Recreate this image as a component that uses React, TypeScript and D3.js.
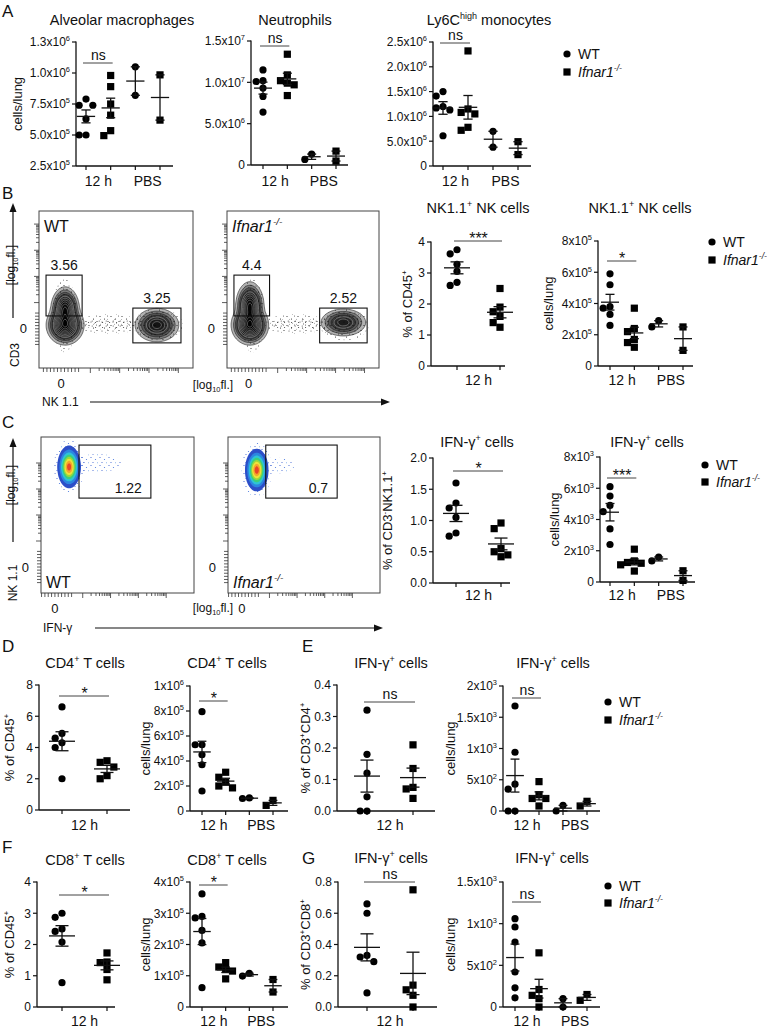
import React from "react";
import * as d3 from "d3";

const W = 767;
const H = 1029;
const FONT = "'Liberation Sans', Arial, Helvetica, sans-serif";

// ---------- scatter data (cells/lung or %) ----------
// A
const alvWT12 = [7.9e5, 7.4e5, 7.4e5, 6.3e5, 5.0e5, 5.0e5];
const alvKO12 = [9.8e5, 8.9e5, 7.5e5, 6.6e5, 5.35e5, 4.95e5];
const alvWTPBS = [1.05e6, 8.2e5];
const alvKOPBS = [9.85e5, 6.2e5];
const alvTicks = [2.5e5, 5e5, 7.5e5, 1e6, 1.25e6];
const alvTickLabels = ["2.5x10^{5}", "5.0x10^{5}", "7.5x10^{5}", "1.0x10^{6}", "1.3x10^{6}"];

const neuWT12 = [1.15e7, 1.02e7, 1.01e7, 9.3e6, 8.3e6, 6.4e6];
const neuKO12 = [1.34e7, 1.09e7, 1.02e7, 9.9e6, 9.7e6, 8.4e6];
const neuWTPBS = [1.32e6, 6.8e5];
const neuKOPBS = [1.68e6, 4.8e5];
const neuTicks = [0, 5e6, 1e7, 1.5e7];
const neuTickLabels = ["0", "5.0x10^{6}", "1.0x10^{7}", "1.5x10^{7}"];

const monoWT12 = [1.5e6, 1.41e6, 1.2e6, 1.17e6, 1.13e6, 6.1e5];
const monoKO12 = [2.32e6, 1.15e6, 1.08e6, 1.05e6, 7.8e5, 7.2e5];
const monoWTPBS = [7.0e5, 3.8e5];
const monoKOPBS = [4.9e5, 2.3e5];
const monoTicks = [0, 5e5, 1e6, 1.5e6, 2e6, 2.5e6];
const monoTickLabels = ["0", "5.0x10^{5}", "1.0x10^{6}", "1.5x10^{6}", "2.0x10^{6}", "2.5x10^{6}"];

// B
const nkPctWT = [3.75, 3.62, 3.28, 3.05, 2.7, 2.6];
const nkPctKO = [2.5, 1.9, 1.75, 1.6, 1.4, 1.25];
const nkCntWT = [5.9e5, 5.2e5, 3.8e5, 3.7e5, 3.3e5, 2.6e5];
const nkCntKO = [3.7e5, 2.4e5, 2.2e5, 1.7e5, 1.5e5, 1.2e5];
const nkCntWTPBS = [2.9e5, 2.5e5];
const nkCntKOPBS = [2.5e5, 1.0e5];

// C
const ifnNkPctWT = [1.6, 1.28, 1.2, 1.05, 0.8, 0.75];
const ifnNkPctKO = [0.96, 0.87, 0.55, 0.5, 0.45, 0.42];
const ifnNkCntWT = [6.1e3, 5.5e3, 4.9e3, 4.5e3, 3.4e3, 2.4e3];
const ifnNkCntKO = [2.1e3, 1.35e3, 1.25e3, 1.2e3, 1.1e3, 0.7e3];
const ifnNkCntWTPBS = [1.6e3, 1.35e3];
const ifnNkCntKOPBS = [0.72e3, 0.1e3];

// D
const cd4PctWT = [6.6, 4.9, 4.6, 4.3, 4.0, 2.0];
const cd4PctKO = [3.15, 3.05, 2.75, 2.2, 2.0];
const cd4CntWT = [7.95e5, 5.3e5, 5.3e5, 4.5e5, 3.7e5, 1.6e5];
const cd4CntKO = [3.1e5, 2.7e5, 2.3e5, 2.0e5, 1.85e5];
const cd4CntWTPBS = [1.05e5, 1.0e5];
const cd4CntKOPBS = [0.85e5, 0.45e5];

// E
const ifnCd4PctWT = [0.32, 0.18, 0.12, 0.045, 0, 0];
const ifnCd4PctKO = [0.21, 0.135, 0.075, 0.07, 0.04];
const ifnCd4CntWT = [1680, 940, 430, 350, 0, 0];
const ifnCd4CntKO = [470, 260, 200, 200, 80];
const ifnCd4CntWTPBS = [90, 0];
const ifnCd4CntKOPBS = [155, 80];

// F
const cd8PctWT = [3.0, 2.87, 2.5, 2.42, 2.08, 0.78];
const cd8PctKO = [1.73, 1.44, 1.42, 1.2, 0.87];
const cd8CntWT = [3.62e5, 2.9e5, 2.85e5, 2.45e5, 2.05e5, 0.62e5];
const cd8CntKO = [1.42e5, 1.28e5, 1.2e5, 1.15e5, 0.9e5];
const cd8CntWTPBS = [1.08e5, 0.99e5];
const cd8CntKOPBS = [0.88e5, 0.48e5];

// G
const ifnCd8PctWT = [0.66, 0.6, 0.33, 0.32, 0.29, 0.09];
const ifnCd8PctKO = [0.75, 0.14, 0.11, 0.075, 0.0];
const ifnCd8CntWT = [1060, 960, 780, 420, 230, 110];
const ifnCd8CntKO = [650, 210, 140, 100, 0];
const ifnCd8CntWTPBS = [100, 0];
const ifnCd8CntKOPBS = [150, 80];

// ---------- flow cytometry (log10 fluorescence units) ----------
type Pop = { x: number; y: number; sx: number; sy: number; w: number };
type Gate = { x0: number; x1: number; y0: number; y1: number };
type Cloud = { x: number; y: number; rx: number; ry: number };

const nkPopsWT: Pop[] = [
  { x: 0.14, y: 0.14, sx: 0.22, sy: 0.26, w: 1 },
  { x: 0.14, y: 0.75, sx: 0.17, sy: 0.3, w: 0.75 },
  { x: 3.27, y: 0.14, sx: 0.28, sy: 0.24, w: 0.45 },
];
const nkPopsKO: Pop[] = [
  { x: 0.04, y: 0.14, sx: 0.22, sy: 0.26, w: 1 },
  { x: 0.04, y: 0.85, sx: 0.17, sy: 0.33, w: 0.8 },
  { x: 3.27, y: 0.24, sx: 0.3, sy: 0.2, w: 0.35 },
];
const nkClouds: Cloud[] = [
  { x: 1.65, y: 0.18, rx: 1.1, ry: 0.38 },
  { x: 1.65, y: 0.18, rx: 0.9, ry: 0.22 },
  { x: 0.12, y: 0.5, rx: 0.42, ry: 1.4 },
  { x: 3.3, y: 0.16, rx: 0.85, ry: 0.6 },
];
const nkGates: Gate[] = [
  { x0: -0.51, x1: 0.72, y0: 0.49, y1: 2.05 },
  { x0: 2.45, x1: 4.09, y0: -0.54, y1: 0.79 },
];
const nkGatePctWT = ["3.56", "3.25"];
const nkGatePctKO = ["4.4", "2.52"];

const ifnPopsWT: Pop[] = [{ x: 0.51, y: 3.85, sx: 0.16, sy: 0.31, w: 1 }];
const ifnPopsKO: Pop[] = [{ x: 0.54, y: 3.73, sx: 0.16, sy: 0.31, w: 1 }];
const ifnCloudsWT: Cloud[] = [
  { x: 0.51, y: 3.85, rx: 0.55, ry: 1.05 },
  { x: 1.5, y: 4.0, rx: 0.9, ry: 0.35 },
];
const ifnCloudsKO: Cloud[] = [
  { x: 0.54, y: 3.73, rx: 0.55, ry: 1.05 },
  { x: 1.3, y: 3.9, rx: 0.6, ry: 0.3 },
];
const ifnGates: Gate[] = [{ x0: 0.866, x1: 3.45, y0: 2.65, y1: 4.69 }];
const ifnGatePctWT = ["1.22"];
const ifnGatePctKO = ["0.7"];

const bwLevels = [0.012, 0.035, 0.07, 0.12, 0.18, 0.26, 0.35, 0.45, 0.56, 0.68, 0.8, 0.92];
const colorLevels = [0.03, 0.1, 0.2, 0.32, 0.46, 0.6, 0.75, 0.9];
const colorFills = ["#2d4fc8", "#2c86e0", "#2ec4d6", "#3dcf7a", "#9bd83c", "#efe23a", "#f6a52a", "#e8452a"];

// ---------- helpers ----------
function Rich({ x = 0, y = 0, text, size = 14, anchor = "start", italic = false, transform, dy, fill = "#111" }: any) {
  const re = /\^\{([^}]*)\}|_\{([^}]*)\}/g;
  const parts: { t: string; k: number }[] = [];
  let last = 0;
  let m: any;
  while ((m = re.exec(text))) {
    if (m.index > last) parts.push({ t: text.slice(last, m.index), k: 0 });
    if (m[1] !== undefined) parts.push({ t: m[1], k: 1 });
    else parts.push({ t: m[2], k: -1 });
    last = re.lastIndex;
  }
  if (last < text.length) parts.push({ t: text.slice(last), k: 0 });
  if (parts.length === 1 && parts[0].k === 0) {
    return (
      <text x={x} y={y} dy={dy} transform={transform} fontSize={size} textAnchor={anchor}
        fontStyle={italic ? "italic" : "normal"} fill={fill} fontFamily={FONT}>{text}</text>
    );
  }
  let cur = 0;
  return (
    <text x={x} y={y} dy={dy} transform={transform} fontSize={size} textAnchor={anchor}
      fontStyle={italic ? "italic" : "normal"} fill={fill} fontFamily={FONT}>
      {parts.map((p, i) => {
        const target = p.k === 1 ? -0.42 * size : p.k === -1 ? 0.22 * size : 0;
        const d = target - cur;
        cur = target;
        return (
          <tspan key={i} dy={d} fontSize={p.k === 0 ? size : size * 0.62}>{p.t}</tspan>
        );
      })}
    </text>
  );
}

function Arrow({ x1, y1, x2, y2 }: any) {
  const a = Math.atan2(y2 - y1, x2 - x1);
  const L = 9, hw = 3.5;
  const bx = x2 - L * Math.cos(a), by = y2 - L * Math.sin(a);
  const px = -Math.sin(a) * hw, py = Math.cos(a) * hw;
  return (
    <g>
      <line x1={x1} y1={y1} x2={bx + 2 * Math.cos(a)} y2={by + 2 * Math.sin(a)} stroke="#111" strokeWidth={1.2} />
      <path d={`M${x2},${y2}L${bx + px},${by + py}L${bx - px},${by - py}Z`} fill="#111" />
    </g>
  );
}

function dodge(vals: number[], y: any, r: number) {
  const order = vals.map((_, i) => i).sort((a, b) => vals[b] - vals[a]);
  const placed: { dx: number; py: number }[] = [];
  const out: { dx: number; py: number }[] = new Array(vals.length);
  const slots = [0, -1, 1, -2, 2, -3, 3];
  const gap = r * 1.9;
  for (const i of order) {
    const py = y(vals[i]);
    for (const s of slots) {
      const dx = s * gap;
      if (placed.every((p) => Math.hypot(p.dx - dx, p.py - py) >= gap)) {
        placed.push({ dx, py });
        out[i] = { dx, py };
        break;
      }
    }
  }
  return out;
}

type Spec = {
  x0: number; x1: number; g: [number, number]; yTop: number; yBot: number;
  domain: [number, number]; ticks: number[]; tickLabels: string[];
  title: string; titleX: number; titleY: number;
  yLabel?: string; yLabelX?: number;
  groups: number[][]; sig: { text: string; y: number }; xLabelY: number;
};

function Chart({ s }: { s: Spec }) {
  const y = d3.scaleLinear().domain(s.domain).range([s.yBot, s.yTop]);
  const idx = s.groups.map((_, i) => i);
  const x = d3.scalePoint<number>().domain(idx).range(s.g);
  const sp = (s.g[1] - s.g[0]) / (idx.length - 1);
  const mw = Math.min(13, sp * 0.37);
  const cw = mw * 0.5;
  const r = 3.6;
  const xl = idx.length === 4
    ? [{ t: "12 h", a: 0, b: 1 }, { t: "PBS", a: 2, b: 3 }]
    : [{ t: "12 h", a: 0, b: 1 }];
  const star = s.sig.text.includes("*");
  const gx = (i: number) => x(i) as number;
  return (
    <g>
      <Rich x={s.titleX} y={s.titleY} text={s.title} size={14.5} anchor="middle" />
      {s.yLabel && (
        <Rich text={s.yLabel} size={13} anchor="middle" dy="0.35em"
          transform={`translate(${s.yLabelX},${(s.yTop + s.yBot) / 2}) rotate(-90)`} />
      )}
      <line x1={s.x0} x2={s.x0} y1={s.yTop - 0.6} y2={s.yBot} stroke="#111" strokeWidth={1.3} />
      <line x1={s.x0} x2={s.x1} y1={s.yBot} y2={s.yBot} stroke="#111" strokeWidth={1.3} />
      {s.ticks.map((t, i) => (
        <g key={i}>
          <line x1={s.x0 - 4} x2={s.x0} y1={y(t)} y2={y(t)} stroke="#111" strokeWidth={1.2} />
          <Rich x={s.x0 - 6} y={y(t) + 4.3} text={s.tickLabels[i]} size={12} anchor="end" />
        </g>
      ))}
      {idx.map((i) => (
        <line key={i} x1={gx(i)} x2={gx(i)} y1={s.yBot} y2={s.yBot + 4} stroke="#111" strokeWidth={1.2} />
      ))}
      {xl.map((l, i) => (
        <Rich key={i} x={(gx(l.a) + gx(l.b)) / 2} y={s.xLabelY} text={l.t} size={14} anchor="middle" />
      ))}
      <line x1={gx(0) - 3} x2={gx(1) + 2} y1={s.sig.y} y2={s.sig.y} stroke="#444" strokeWidth={1} />
      <Rich x={(gx(0) + gx(1)) / 2} y={star ? s.sig.y + 2.5 : s.sig.y - 3}
        text={s.sig.text} size={star ? 16 : 14} anchor="middle" />
      {s.groups.map((vals, gi) => {
        const cx = gx(gi);
        const pos = dodge(vals, y, r);
        const mean = d3.mean(vals) as number;
        const sem = (d3.deviation(vals) as number) / Math.sqrt(vals.length);
        return (
          <g key={gi}>
            {pos.map((p, k) =>
              gi % 2 === 0 ? (
                <circle key={k} cx={cx + p.dx} cy={p.py} r={r} fill="#000" />
              ) : (
                <rect key={k} x={cx + p.dx - r} y={p.py - r} width={2 * r} height={2 * r} fill="#000" />
              )
            )}
            <line x1={cx - mw} x2={cx + mw} y1={y(mean)} y2={y(mean)} stroke="#111" strokeWidth={1.3} />
            <line x1={cx} x2={cx} y1={y(mean - sem)} y2={y(mean + sem)} stroke="#111" strokeWidth={1.3} />
            <line x1={cx - cw} x2={cx + cw} y1={y(mean + sem)} y2={y(mean + sem)} stroke="#111" strokeWidth={1.3} />
            <line x1={cx - cw} x2={cx + cw} y1={y(mean - sem)} y2={y(mean - sem)} stroke="#111" strokeWidth={1.3} />
          </g>
        );
      })}
    </g>
  );
}

function Legend({ x, y, gap = 18 }: any) {
  return (
    <g>
      <circle cx={x} cy={y} r={3.6} fill="#000" />
      <Rich x={x + 11} y={y + 5} text="WT" size={14} />
      <rect x={x - 3.6} y={y + gap - 3.6} width={7.2} height={7.2} fill="#000" />
      <Rich x={x + 11} y={y + gap + 5} text="Ifnar1^{-/-}" size={14} italic />
    </g>
  );
}

const flowTicks = [
  ...d3.range(-0.6, 0.61, 0.12).map((v) => ({ v, major: false })),
  ...d3.scaleLog().domain([10, 1e4]).ticks().map((t) => ({ v: Math.log10(t), major: Number.isInteger(Math.log10(t)) })),
];

function Flow({ id, left, top, w, h, xDom, yDom, pops, color, clouds, gates, gateLabels, sample, sampleItalic, sampleBottom }: any) {
  const xs = d3.scaleLinear().domain(xDom).range([left, left + w]);
  const ys = d3.scaleLinear().domain(yDom).range([top + h, top]);
  const step = 1.25;
  const nx = Math.ceil(w / step), ny = Math.ceil(h / step);
  const vals: number[] = new Array(nx * ny);
  for (let j = 0; j < ny; j++) {
    for (let i = 0; i < nx; i++) {
      const u = xs.invert(left + (i + 0.5) * step);
      const v = ys.invert(top + (j + 0.5) * step);
      let s = 0;
      for (const p of pops as Pop[]) {
        s += p.w * Math.exp(-0.5 * (((u - p.x) / p.sx) ** 2 + ((v - p.y) / p.sy) ** 2));
      }
      vals[j * nx + i] = s;
    }
  }
  const mx = d3.max(vals) as number;
  const levels = color ? colorLevels : bwLevels;
  const cs = d3.contours().size([nx, ny]).thresholds(levels.map((l) => l * mx))(vals);
  const proj = d3.geoTransform({
    point(px: number, py: number) {
      (this as any).stream.point(left + px * step, top + py * step);
    },
  });
  const path = d3.geoPath(proj);
  const x0 = xs(0), y0 = ys(0);
  return (
    <g>
      <defs>
        <clipPath id={id}>
          <rect x={left} y={top} width={w} height={h} />
        </clipPath>
      </defs>
      <g clipPath={`url(#${id})`}>
        {(clouds as Cloud[]).map((c, i) => (
          <ellipse key={i} cx={xs(c.x)} cy={ys(c.y)} rx={xs(c.x + c.rx) - xs(c.x)} ry={ys(c.y) - ys(c.y + c.ry)}
            fill={color ? "url(#stipB)" : i === 1 ? "url(#stipK2)" : "url(#stipK)"} />
        ))}
        {cs.map((c, i) =>
          color ? (
            <path key={i} d={path(c as any) || ""} fill={colorFills[i]} stroke="none" />
          ) : (
            <path key={i} d={path(c as any) || ""} fill="#000" fillOpacity={0.3}
              stroke={i >= 4 ? "#fff" : "#111"} strokeWidth={0.55} strokeOpacity={i >= 4 ? 0.55 : 1} />
          )
        )}
      </g>
      <rect x={left} y={top} width={w} height={h} fill="none" stroke="#444" strokeWidth={1} />
      {flowTicks.map((t, i) => {
        const len = t.major ? 5 : Math.abs(t.v) < 0.7 ? 4 : 3;
        return (
          <g key={i}>
            {xs(t.v) > left && xs(t.v) < left + w && (
              <line x1={xs(t.v)} x2={xs(t.v)} y1={top + h} y2={top + h + len} stroke="#333" strokeWidth={0.8} />
            )}
            {ys(t.v) > top && ys(t.v) < top + h && (
              <line x1={left - len} x2={left} y1={ys(t.v)} y2={ys(t.v)} stroke="#333" strokeWidth={0.8} />
            )}
          </g>
        );
      })}
      <Rich x={left - 12} y={y0 + 4.5} text="0" size={13} anchor="end" />
      <Rich x={x0} y={top + h + 20} text="0" size={13} anchor="middle" />
      {(gates as Gate[]).map((g, i) => {
        const gx0 = xs(g.x0), gx1 = xs(g.x1), gy0 = ys(g.y0), gy1 = ys(g.y1);
        return (
          <g key={i}>
            <rect x={gx0} y={gy1} width={gx1 - gx0} height={gy0 - gy1} fill="none" stroke="#111" strokeWidth={1.1} />
            {color ? (
              <Rich x={gx1 - 9} y={gy0 - 5} text={gateLabels[i]} size={14} anchor="end" />
            ) : (
              <Rich x={(gx0 + gx1) / 2} y={gy1 - 5} text={gateLabels[i]} size={14} anchor="middle" />
            )}
          </g>
        );
      })}
      <Rich x={left + 5} y={sampleBottom ? top + h - 5 : top + 21} text={sample} size={16} italic={sampleItalic} />
    </g>
  );
}

const nkXDom = [-0.75, 4.5];
const nkYDom = [-1.5, 4.5];
const ifnXDom = [-0.5, 5];
const ifnYDom = [-1, 5];

export default function App() {
  const twoG = (a: number, b: number): [number, number] => [a, b];
  const charts: Spec[] = [
    { x0: 76, x1: 173, g: twoG(86, 160), yTop: 42, yBot: 166, domain: [2.5e5, 1.25e6], ticks: alvTicks, tickLabels: alvTickLabels,
      title: "Alveolar macrophages", titleX: 122, titleY: 25, yLabel: "cells/lung", yLabelX: 17,
      groups: [alvWT12, alvKO12, alvWTPBS, alvKOPBS], sig: { text: "ns", y: 63 }, xLabelY: 186 },
    { x0: 251, x1: 348, g: twoG(263, 336), yTop: 41, yBot: 165, domain: [0, 1.5e7], ticks: neuTicks, tickLabels: neuTickLabels,
      title: "Neutrophils", titleX: 295, titleY: 25,
      groups: [neuWT12, neuKO12, neuWTPBS, neuKOPBS], sig: { text: "ns", y: 46 }, xLabelY: 186 },
    { x0: 433, x1: 531, g: twoG(443, 518), yTop: 42, yBot: 166, domain: [0, 2.5e6], ticks: monoTicks, tickLabels: monoTickLabels,
      title: "Ly6C^{high} monocytes", titleX: 489, titleY: 25,
      groups: [monoWT12, monoKO12, monoWTPBS, monoKOPBS], sig: { text: "ns", y: 43 }, xLabelY: 186 },
    { x0: 431, x1: 505, g: twoG(457, 500), yTop: 242, yBot: 366, domain: [0, 4], ticks: [0, 1, 2, 3, 4], tickLabels: ["0", "1", "2", "3", "4"],
      title: "NK1.1^{+} NK cells", titleX: 478, titleY: 213, yLabel: "% of CD45^{+}", yLabelX: 412,
      groups: [nkPctWT, nkPctKO], sig: { text: "***", y: 241 }, xLabelY: 385 },
    { x0: 598, x1: 693, g: twoG(610, 683), yTop: 241, yBot: 366, domain: [0, 8e5], ticks: [0, 2e5, 4e5, 6e5, 8e5],
      tickLabels: ["0", "2x10^{5}", "4x10^{5}", "6x10^{5}", "8x10^{5}"],
      title: "NK1.1^{+} NK cells", titleX: 640, titleY: 213, yLabel: "cells/lung", yLabelX: 548,
      groups: [nkCntWT, nkCntKO, nkCntWTPBS, nkCntKOPBS], sig: { text: "*", y: 261 }, xLabelY: 385 },
    { x0: 433, x1: 510, g: twoG(456, 501), yTop: 458, yBot: 583, domain: [0, 2], ticks: [0, 0.5, 1, 1.5, 2],
      tickLabels: ["0.0", "0.5", "1.0", "1.5", "2.0"],
      title: "IFN-γ^{+} cells", titleX: 477, titleY: 447, yLabel: "% of CD3^{-}NK1.1^{+}", yLabelX: 392,
      groups: [ifnNkPctWT, ifnNkPctKO], sig: { text: "*", y: 471 }, xLabelY: 600 },
    { x0: 600, x1: 695, g: twoG(610, 683), yTop: 457, yBot: 582, domain: [0, 8e3], ticks: [0, 2e3, 4e3, 6e3, 8e3],
      tickLabels: ["0", "2x10^{3}", "4x10^{3}", "6x10^{3}", "8x10^{3}"],
      title: "IFN-γ^{+} cells", titleX: 647, titleY: 447, yLabel: "cells/lung", yLabelX: 554,
      groups: [ifnNkCntWT, ifnNkCntKO, ifnNkCntWTPBS, ifnNkCntKOPBS], sig: { text: "***", y: 478 }, xLabelY: 600 },
    { x0: 39, x1: 130, g: twoG(62, 107), yTop: 685, yBot: 810, domain: [0, 8], ticks: [0, 2, 4, 6, 8], tickLabels: ["0", "2", "4", "6", "8"],
      title: "CD4^{+} T cells", titleX: 85, titleY: 668, yLabel: "% of CD45^{+}", yLabelX: 14,
      groups: [cd4PctWT, cd4PctKO], sig: { text: "*", y: 696 }, xLabelY: 830 },
    { x0: 190, x1: 288, g: twoG(202, 273), yTop: 686, yBot: 811, domain: [0, 1e6], ticks: [0, 2e5, 4e5, 6e5, 8e5, 1e6],
      tickLabels: ["0", "2x10^{5}", "4x10^{5}", "6x10^{5}", "8x10^{5}", "1x10^{6}"],
      title: "CD4^{+} T cells", titleX: 227, titleY: 668, yLabel: "cells/lung", yLabelX: 145,
      groups: [cd4CntWT, cd4CntKO, cd4CntWTPBS, cd4CntKOPBS], sig: { text: "*", y: 701 }, xLabelY: 830 },
    { x0: 337, x1: 435, g: twoG(367, 413), yTop: 685, yBot: 811, domain: [0, 0.4], ticks: [0, 0.1, 0.2, 0.3, 0.4],
      tickLabels: ["0.0", "0.1", "0.2", "0.3", "0.4"],
      title: "IFN-γ^{+} cells", titleX: 391, titleY: 668, yLabel: "% of CD3^{+}CD4^{+}", yLabelX: 310,
      groups: [ifnCd4PctWT, ifnCd4PctKO], sig: { text: "ns", y: 702 }, xLabelY: 830 },
    { x0: 503, x1: 600, g: twoG(515, 587), yTop: 686, yBot: 811, domain: [0, 2e3], ticks: [0, 500, 1000, 1500, 2000],
      tickLabels: ["0", "5x10^{2}", "1x10^{3}", "1.5x10^{3}", "2x10^{3}"],
      title: "IFN-γ^{+} cells", titleX: 553, titleY: 668, yLabel: "cells/lung", yLabelX: 450,
      groups: [ifnCd4CntWT, ifnCd4CntKO, ifnCd4CntWTPBS, ifnCd4CntKOPBS], sig: { text: "ns", y: 698 }, xLabelY: 830 },
    { x0: 37, x1: 115, g: twoG(62, 107), yTop: 882, yBot: 1007, domain: [0, 4], ticks: [0, 1, 2, 3, 4], tickLabels: ["0", "1", "2", "3", "4"],
      title: "CD8^{+} T cells", titleX: 85, titleY: 865, yLabel: "% of CD45^{+}", yLabelX: 14,
      groups: [cd8PctWT, cd8PctKO], sig: { text: "*", y: 895 }, xLabelY: 1026 },
    { x0: 190, x1: 288, g: twoG(202, 273), yTop: 882, yBot: 1007, domain: [0, 4e5], ticks: [0, 1e5, 2e5, 3e5, 4e5],
      tickLabels: ["0", "1x10^{5}", "2x10^{5}", "3x10^{5}", "4x10^{5}"],
      title: "CD8^{+} T cells", titleX: 227, titleY: 865, yLabel: "cells/lung", yLabelX: 145,
      groups: [cd8CntWT, cd8CntKO, cd8CntWTPBS, cd8CntKOPBS], sig: { text: "*", y: 885 }, xLabelY: 1026 },
    { x0: 338, x1: 437, g: twoG(367, 413), yTop: 882, yBot: 1007, domain: [0, 0.8], ticks: [0, 0.2, 0.4, 0.6, 0.8],
      tickLabels: ["0.0", "0.2", "0.4", "0.6", "0.8"],
      title: "IFN-γ^{+} cells", titleX: 391, titleY: 863, yLabel: "% of CD3^{+}CD8^{+}", yLabelX: 310,
      groups: [ifnCd8PctWT, ifnCd8PctKO], sig: { text: "ns", y: 882 }, xLabelY: 1026 },
    { x0: 503, x1: 600, g: twoG(515, 587), yTop: 882, yBot: 1007, domain: [0, 1.5e3], ticks: [0, 500, 1000, 1500],
      tickLabels: ["0", "5x10^{2}", "1x10^{3}", "1.5x10^{3}"],
      title: "IFN-γ^{+} cells", titleX: 552, titleY: 863, yLabel: "cells/lung", yLabelX: 450,
      groups: [ifnCd8CntWT, ifnCd8CntKO, ifnCd8CntWTPBS, ifnCd8CntKOPBS], sig: { text: "ns", y: 902 }, xLabelY: 1026 },
  ];

  const letters = [
    { t: "A", x: 2, y: 17 }, { t: "B", x: 2, y: 199 }, { t: "C", x: 2, y: 428 },
    { t: "D", x: 2, y: 652 }, { t: "E", x: 302, y: 652 }, { t: "F", x: 2, y: 853 }, { t: "G", x: 302, y: 864 },
  ];

  return (
    <div>
      <style>{`body{margin:0;background:#fff}`}</style>
      <svg width={W} height={H} viewBox={`0 0 ${W} ${H}`} style={{ display: "block", fontFamily: FONT }}>
        <defs>
          <pattern id="stipK" width={11} height={9} patternUnits="userSpaceOnUse">
            <circle cx={1} cy={1.5} r={0.55} fill="#222" />
            <circle cx={5.5} cy={4} r={0.55} fill="#222" />
            <circle cx={8.5} cy={1} r={0.5} fill="#444" />
            <circle cx={3} cy={7} r={0.5} fill="#333" />
            <circle cx={9} cy={6.5} r={0.55} fill="#222" />
            <circle cx={6.5} cy={8.3} r={0.45} fill="#555" />
          </pattern>
          <pattern id="stipK2" width={7} height={5} patternUnits="userSpaceOnUse">
            <circle cx={1.2} cy={1} r={0.5} fill="#333" />
            <circle cx={4.6} cy={2.6} r={0.5} fill="#222" />
            <circle cx={2.5} cy={4.2} r={0.45} fill="#555" />
          </pattern>
          <pattern id="stipB" width={9} height={8} patternUnits="userSpaceOnUse">
            <circle cx={1} cy={1.5} r={0.6} fill="#3a5fd0" />
            <circle cx={5.5} cy={3.5} r={0.6} fill="#4a7ae0" />
            <circle cx={3} cy={6.5} r={0.55} fill="#3a5fd0" />
            <circle cx={7.5} cy={6.8} r={0.5} fill="#6aa0e8" />
          </pattern>
        </defs>
        <rect width={W} height={H} fill="#fff" />

        {letters.map((l) => (
          <text key={l.t} x={l.x} y={l.y} fontSize={17} fontFamily={FONT} fill="#111">{l.t}</text>
        ))}

        {charts.map((s, i) => (
          <Chart key={i} s={s} />
        ))}

        <Legend x={567} y={54} />
        <Legend x={712} y={242} />
        <Legend x={705} y={465} gap={17} />
        <Legend x={608} y={702} />
        <Legend x={608} y={886} gap={17} />

        {/* B flow plots */}
        <Flow id="fb1" left={39} top={211} w={154} h={157} xDom={nkXDom} yDom={nkYDom} pops={nkPopsWT}
          clouds={nkClouds} gates={nkGates} gateLabels={nkGatePctWT} sample="WT" />
        <Flow id="fb2" left={227} top={211} w={152} h={157} xDom={nkXDom} yDom={nkYDom} pops={nkPopsKO}
          clouds={nkClouds} gates={nkGates} gateLabels={nkGatePctKO} sample="Ifnar1^{-/-}" sampleItalic />
        <Arrow x1={13} y1={318} x2={13} y2={203} />
        <Rich text="[log_{10}fl.]" size={12} anchor="middle" dy="0.35em" transform="translate(15,265) rotate(-90)" />
        <Rich text="CD3" size={12} anchor="middle" dy="0.35em" transform="translate(15,355) rotate(-90)" />
        <Rich x={213} y={389} text="[log_{10}fl.]" size={12} anchor="middle" />
        <Rich x={42} y={406} text="NK 1.1" size={12} />
        <Arrow x1={90} y1={402} x2={390} y2={402} />

        {/* C flow plots */}
        <Flow id="fc1" left={41} top={437} w={153} h={156} xDom={ifnXDom} yDom={ifnYDom} pops={ifnPopsWT} color
          clouds={ifnCloudsWT} gates={ifnGates} gateLabels={ifnGatePctWT} sample="WT" sampleBottom />
        <Flow id="fc2" left={228} top={437} w={152} h={156} xDom={ifnXDom} yDom={ifnYDom} pops={ifnPopsKO} color
          clouds={ifnCloudsKO} gates={ifnGates} gateLabels={ifnGatePctKO} sample="Ifnar1^{-/-}" sampleItalic sampleBottom />
        <Arrow x1={13} y1={542} x2={13} y2={438} />
        <Rich text="[log_{10}fl.]" size={12} anchor="middle" dy="0.35em" transform="translate(15,485) rotate(-90)" />
        <Rich text="NK 1.1" size={12} anchor="middle" dy="0.35em" transform="translate(13,583) rotate(-90)" />
        <Rich x={213} y={612} text="[log_{10}fl.]" size={12} anchor="middle" />
        <Rich x={43} y={632} text="IFN-γ" size={12} />
        <Arrow x1={95} y1={628} x2={383} y2={628} />
      </svg>
    </div>
  );
}
